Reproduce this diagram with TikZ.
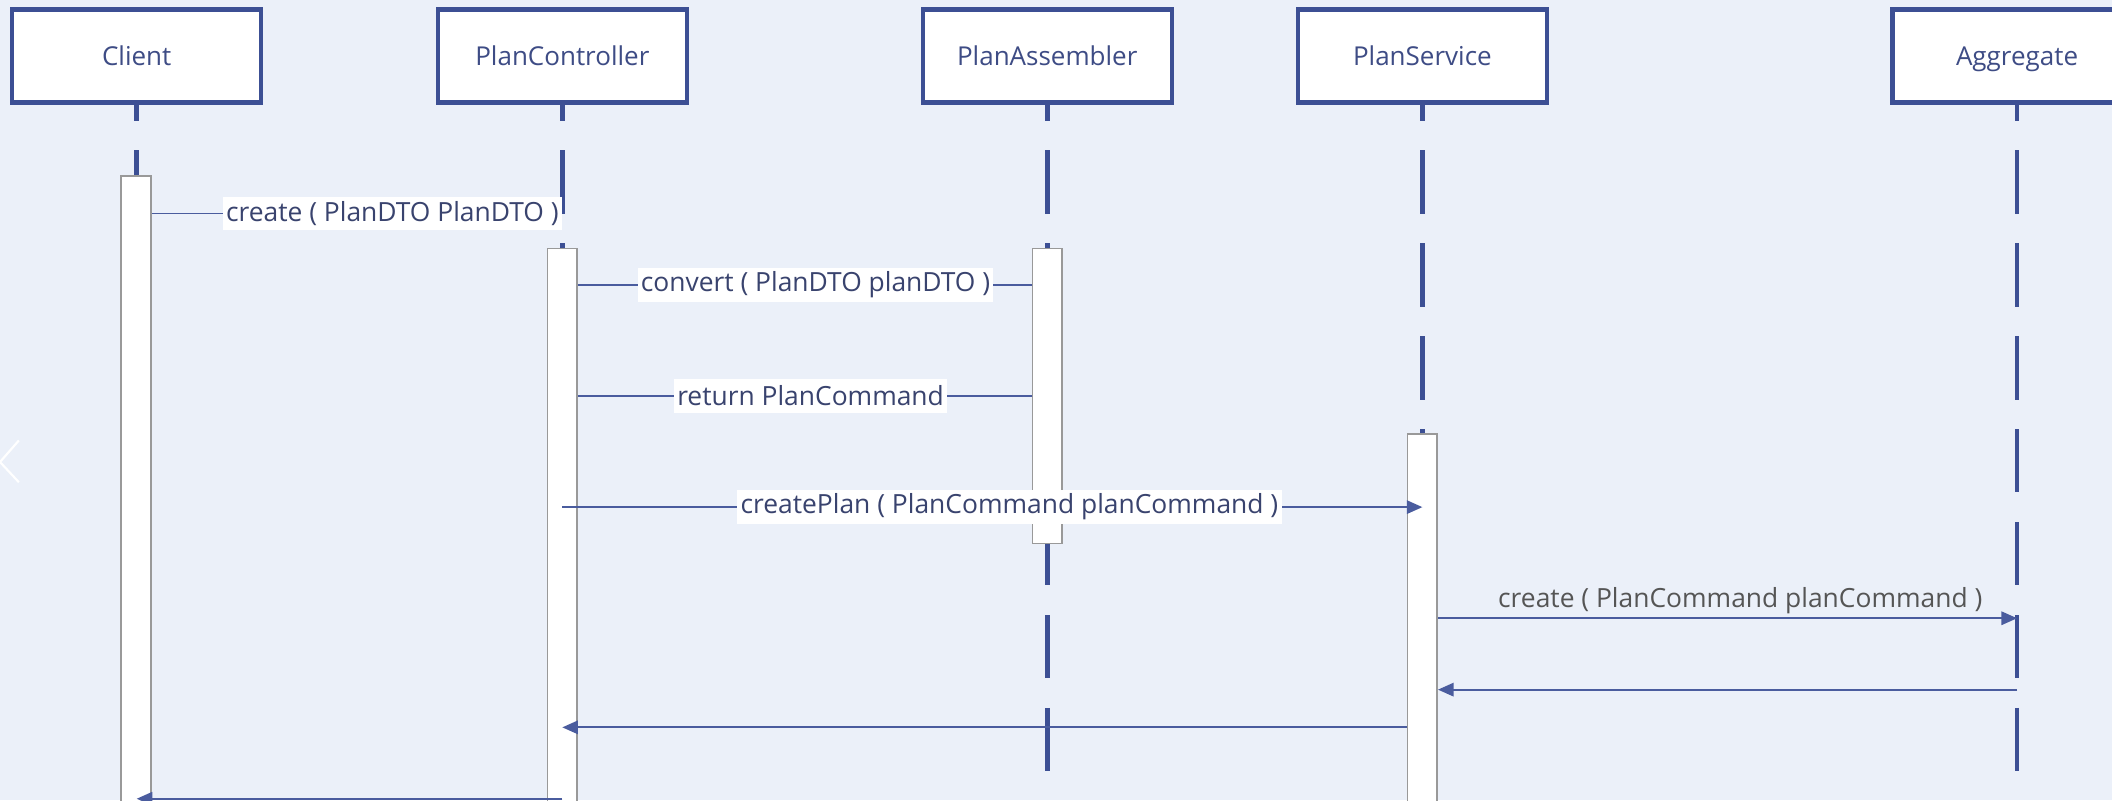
\documentclass[tikz,border=0pt]{standalone}
\usepackage{fontspec}
\setmainfont{Open Sans}
\usetikzlibrary{arrows.meta}
\definecolor{bgc}{HTML}{EBF0F9}
\definecolor{navy}{HTML}{3C4F94}
\definecolor{msgc}{HTML}{4A5C9E}
\definecolor{headtxt}{HTML}{3E4C85}
\definecolor{lbltxt}{HTML}{39436E}
\definecolor{graytxt}{HTML}{555555}
\definecolor{actborder}{HTML}{999999}
\begin{document}
\begin{tikzpicture}[x=0.5pt,y=-0.5pt,
  head/.style={draw=navy, line width=1.6pt, fill=white, minimum width=92.5pt,
    minimum height=34.5pt, inner sep=0pt, text=headtxt, text height=8pt, text depth=1pt,
    font=\fontsize{9.65}{11}\selectfont},
  lifeline/.style={draw=navy, line width=1.8pt, dash pattern=on 23.5pt off 11pt, dash phase=17.5pt},
  actbar/.style={draw=actborder, line width=0.6pt, fill=white, minimum width=11pt,
    inner sep=0pt, anchor=north},
  msg/.style={draw=msgc, line width=0.65pt},
  msgarrow/.style={msg, -{Triangle[length=5.8pt,width=5pt]}},
  lbl/.style={fill=white, text=lbltxt, inner xsep=1.2pt, inner ysep=0pt,
    minimum height=12.5pt, anchor=west, font=\fontsize{9.8}{11}\selectfont},
  retlbl/.style={text=graytxt, inner sep=0pt, font=\fontsize{9.8}{11}\selectfont},
]
\useasboundingbox (0,0) rectangle (1568,594);
\clip (0,0) rectangle (1568,594);
\fill[bgc] (0,0) rectangle (1568,594);

% heads
\node[head] (client) at (101.5,41.5) {Client};
\node[head] (ctrl) at (417.5,41.5) {PlanController};
\node[head] (asm) at (777.5,41.5) {PlanAssembler};
\node[head] (svc) at (1056,41.5) {PlanService};
\node[head] (agg) at (1497.5,41.5) {Aggregate};

% lifelines
\coordinate (bot) at (0,574);
\foreach \n in {client,ctrl,asm,svc,agg}
  \draw[lifeline] (\n.south) -- (\n.south |- bot);

% activation bars
\node[actbar, minimum height=240pt] (aC) at (101,130) {};
\node[actbar, minimum height=213pt] (aP) at (417.5,184) {};
\node[actbar, minimum height=109.5pt] (aA) at (777.5,184) {};
\node[actbar, minimum height=146pt] (aS) at (1056,321.5) {};

% message rows
\coordinate (y1) at (0,158.5);
\coordinate (y2) at (0,211.6);
\coordinate (y3) at (0,294);
\coordinate (y4) at (0,376.5);
\coordinate (y5) at (0,459);
\coordinate (y6) at (0,512);
\coordinate (y7) at (0,540);
\coordinate (y8) at (0,593);

\draw[msg] (aC.east |- y1) -- (ctrl.south |- y1);
\draw[msg] (aP.east |- y2) -- (aA.west |- y2);
\draw[msg] (aP.east |- y3) -- (aA.west |- y3);
\draw[msgarrow] (ctrl.south |- y4) -- (svc.south |- y4);
\draw[msgarrow] (aS.east |- y5) -- (agg.south |- y5);
\draw[msgarrow] (agg.south |- y6) -- (aS.east |- y6);
\draw[msgarrow] (aS.west |- y7) -- (ctrl.south |- y7);
\draw[msgarrow] (ctrl.south |- y8) -- (client.south |- y8);

% labels
\node[lbl] (l1) at (165,158.5) {create ( PlanDTO PlanDTO )\hspace{5pt}};
\node[lbl] (l2) at (473,211.6) {convert ( PlanDTO planDTO )};
\node[lbl] (l3) at (500,294) {return PlanCommand};
\node[lbl] (l4) at (547,376.5) {createPlan ( PlanCommand planCommand )\hspace{2pt}};
\node[retlbl] (l5) at (1292,446) {create ( PlanCommand planCommand )};

% carousel chevron
\draw[white, line width=0.8pt] (14,327) -- (0,343) -- (14,358);
\end{tikzpicture}
\end{document}
